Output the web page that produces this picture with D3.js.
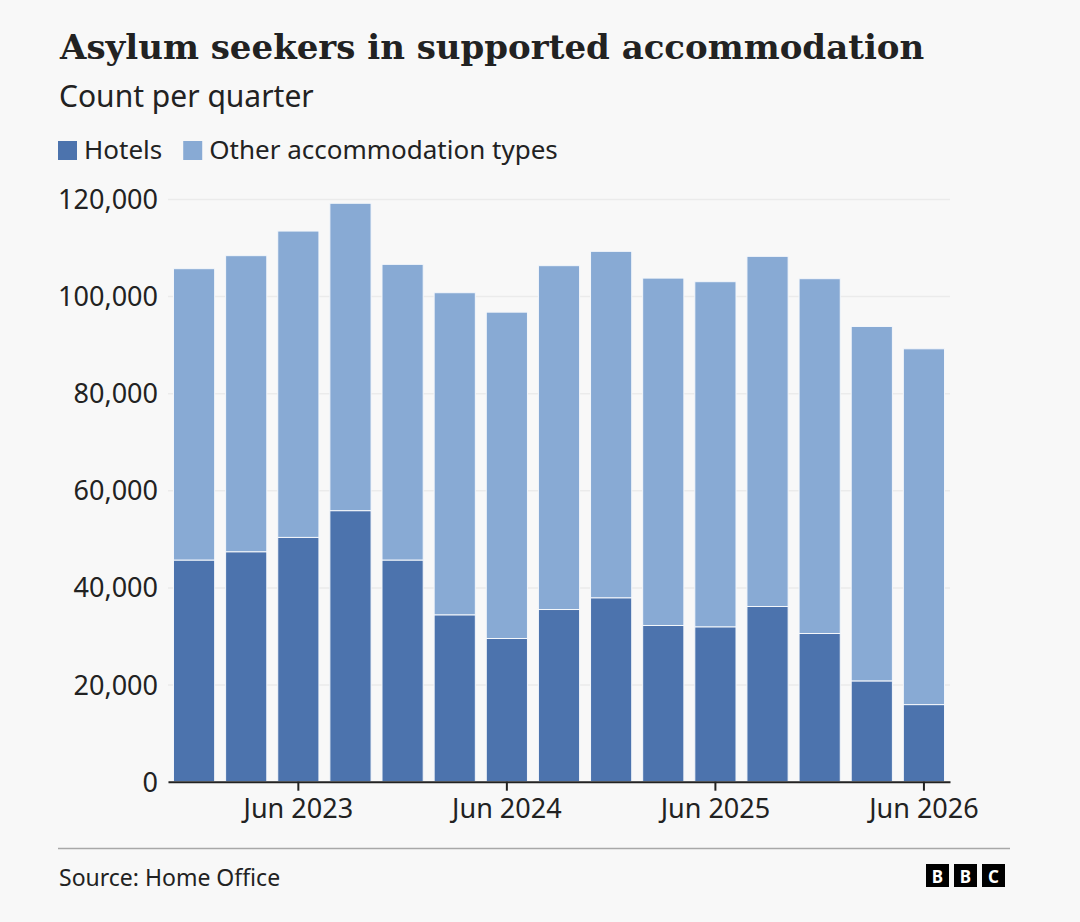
<!DOCTYPE html>
<html>
<head>
<meta charset="utf-8">
<script src="https://cdn.jsdelivr.net/npm/d3@7"></script>
<style>
  body { margin: 0; background: #f8f8f8; }
  text { fill: #222; }
</style>
</head>
<body>
<script>
// quarters shown along the bottom, one bar each
const quarters = ["Dec 2022", "Mar 2023", "Jun 2023", "Sep 2023", "Dec 2023",
    "Mar 2024", "Jun 2024", "Sep 2024", "Dec 2024", "Mar 2025",
    "Jun 2025", "Sep 2025", "Dec 2025", "Mar 2026", "Jun 2026"];

const hotels = [45650, 47360, 50310, 55820, 45650, 34370, 29490, 35460,
    37880, 32170, 31900, 36080, 30520, 20760, 15880];
const other = [60000, 60970, 63090, 63300, 60890, 66330, 67210, 70810,
    71340, 71540, 71070, 72110, 73070, 72990, 73270];

const xTicks = ["Jun 2023", "Jun 2024", "Jun 2025", "Jun 2026"];
const yTicks = [0, 20000, 40000, 60000, 80000, 100000, 120000];

const keys = ["hotels", "other"];
const labels = {hotels: "Hotels", other: "Other accommodation types"};
const color = d3.scaleOrdinal().domain(keys).range(["#4c73ad", "#88aad4"]);

const rows = quarters.map((q, i) => ({q: q, hotels: hotels[i], other: other[i]}));

const W = 1080, H = 922;
const margin = {top: 199, right: 130, bottom: 140, left: 168};

const svg = d3.select("body").append("svg")
    .attr("width", W)
    .attr("height", H)
    .style("font-family", "'Noto Sans', sans-serif");

// title block
svg.append("text")
    .attr("x", 60).attr("y", 59)
    .style("font-family", "'DejaVu Serif', serif")
    .style("font-weight", "bold")
    .style("font-size", "34px")
    .text("Asylum seekers in supported accommodation");

svg.append("text")
    .attr("x", 59).attr("y", 107)
    .style("font-size", "30px")
    .text("Count per quarter");

// legend
const leg = svg.append("g").attr("transform", "translate(58,141)");
let lx = 0;
keys.forEach(k => {
    const g = leg.append("g").attr("transform", `translate(${lx},0)`);
    g.append("rect").attr("width", 19).attr("height", 19).attr("fill", color(k));
    const t = g.append("text").attr("x", 26).attr("y", 17.5)
        .style("font-size", "26px").text(labels[k]);
    lx += 26 + t.node().getComputedTextLength() + 21;
});

const x = d3.scaleBand()
    .domain(quarters)
    .range([margin.left, 950])
    .paddingInner(0.21)
    .paddingOuter(0.105);

const y = d3.scaleLinear()
    .domain([0, 120000])
    .range([781.7, margin.top]);

// gridlines + y labels
const yAxis = svg.append("g")
    .attr("transform", `translate(${margin.left},0)`)
    .call(d3.axisLeft(y).tickValues(yTicks).tickSize(-(950 - margin.left))
        .tickFormat(d3.format(",")));
yAxis.select(".domain").remove();
yAxis.selectAll(".tick line").attr("stroke", "#ebebeb").attr("stroke-width", 1.5);
yAxis.selectAll(".tick text")
    .attr("x", -10)
    .attr("dy", "0.35em")
    .style("font-size", "27px")
    .style("font-family", "'Noto Sans', sans-serif")
    .attr("fill", "#222");

// stacked bars
const stacked = d3.stack().keys(keys)(rows);
svg.append("g")
    .selectAll("g")
    .data(stacked)
    .join("g")
    .attr("fill", d => color(d.key))
    .selectAll("rect")
    .data(d => d)
    .join("rect")
    .attr("x", d => x(d.data.q))
    .attr("width", x.bandwidth())
    .attr("y", d => y(d[1]))
    .attr("height", d => y(d[0]) - y(d[1]))
    .attr("stroke", "#f4f7fb")
    .attr("stroke-width", 1);

// x axis
const xAxis = svg.append("g")
    .attr("transform", "translate(0,781.7)")
    .call(d3.axisBottom(x).tickValues(xTicks).tickSize(9).tickSizeOuter(0));
xAxis.select(".domain").attr("stroke", "#222").attr("stroke-width", 2);
xAxis.selectAll(".tick line").attr("stroke", "#222").attr("stroke-width", 2);
xAxis.selectAll(".tick text")
    .attr("y", 36.5)
    .attr("dy", 0)
    .style("font-size", "27px")
    .style("font-family", "'Noto Sans', sans-serif")
    .attr("fill", "#222");

// footer
svg.append("line")
    .attr("x1", 58).attr("x2", 1010)
    .attr("y1", 848.5).attr("y2", 848.5)
    .attr("stroke", "#a8a8a8").attr("stroke-width", 1.5);

svg.append("text")
    .attr("x", 59).attr("y", 886)
    .style("font-size", "23px")
    .text("Source: Home Office");

const bbc = svg.append("g").attr("transform", "translate(926,864)");
["B", "B", "C"].forEach((ch, i) => {
    bbc.append("rect").attr("x", i * 28).attr("width", 23).attr("height", 23).attr("fill", "#000");
    bbc.append("text").attr("x", i * 28 + 11.5).attr("y", 19)
        .attr("text-anchor", "middle")
        .style("font-size", "17px").style("font-weight", "bold")
        .style("fill", "#fff").text(ch);
});
</script>
</body>
</html>
